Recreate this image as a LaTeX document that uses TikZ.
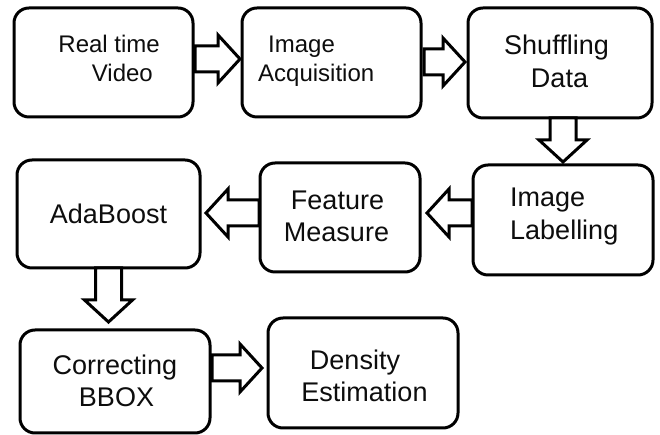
\documentclass[tikz,border=0pt]{standalone}
\usepackage{fontspec}
\setmainfont{Liberation Sans}
\usetikzlibrary{calc}
\newcommand\blockarrow[2]{%
  \coordinate (ba-n) at ($(#2)!22pt!(#1)$);
  \draw[barrow] ($(#1)!13pt!90:(#2)$) -- ($(ba-n)!13pt!90:(#2)$) -- ($(ba-n)!24pt!90:(#2)$) -- (#2)
    -- ($(ba-n)!24pt!-90:(#2)$) -- ($(ba-n)!13pt!-90:(#2)$) -- ($(#1)!13pt!-90:(#2)$) -- cycle;}
\tikzset{
  box/.style={draw=black, line width=3pt, rounded corners=15pt, fill=white, inner sep=0pt, outer sep=0pt},
  barrow/.style={draw=black, line width=3pt, fill=white, line join=miter},
  tsmall/.style={font=\fontsize{24}{29}\selectfont, inner sep=0pt, text=black!95},
  tbig/.style={font=\fontsize{27}{32}\selectfont, inner sep=0pt, text=black!95},
}
\begin{document}
\begin{tikzpicture}[x=1pt, y=1pt]
\useasboundingbox (0,0) rectangle (660,435);
\fill[white] (0,0) rectangle (660,435);

% boxes
\node[box, minimum width=179pt, minimum height=109pt] (b1) at (103.5,372.5) {};
\node[box, minimum width=179pt, minimum height=109pt] (b2) at (331.5,372.5) {};
\node[box, minimum width=184pt, minimum height=110pt] (b3) at (560,372) {};
\node[box, minimum width=180pt, minimum height=110pt] (b4) at (563,215) {};
\node[box, minimum width=160pt, minimum height=109pt] (b5) at (340,217.5) {};
\node[box, minimum width=183pt, minimum height=108pt] (b6) at (108.5,221) {};
\node[box, minimum width=190pt, minimum height=103pt] (b7) at (115,53.5) {};
\node[box, minimum width=190pt, minimum height=110pt] (b8) at (363,62) {};

% texts
\node[tsmall, anchor=base east] (t1a) at (160,382) {Real time};
\node[tsmall, anchor=base east] (t1b) at (153,353) {Video};
\node[tsmall, anchor=base west] (t2a) at (268,382) {Image};
\node[tsmall, anchor=base west] (t2b) at (258,353) {Acquisition};
\node[tbig, anchor=base] (t3a) at (556.5,380) {Shuffling};
\node[tbig, anchor=base] (t3b) at (559.5,347) {Data};
\node[tbig, anchor=base west] (t4a) at (510,228) {Image};
\node[tbig, anchor=base west] (t4b) at (510,195) {Labelling};
\node[tbig, anchor=base] (t5a) at (337.5,225) {Feature};
\node[tbig, anchor=base] (t5b) at (336.5,193) {Measure};
\node[tbig, anchor=base] (t6a) at (108.5,211) {AdaBoost};
\node[tbig, anchor=base] (t7a) at (115,60) {Correcting};
\node[tbig, anchor=base] (t7b) at (116.5,28) {BBOX};
\node[tbig, anchor=base] (t8a) at (355,65) {Density};
\node[tbig, anchor=base] (t8b) at (364.5,33) {Estimation};

% arrow end points
\coordinate (s1) at ($(b1.east)+(2,3.5)$);
\coordinate (e1) at ($(b2.west)+(-2,3.5)$);
\coordinate (s2) at ($(b2.east)+(3,0.5)$);
\coordinate (e2) at ($(b3.west)+(-3,1)$);
\coordinate (s3) at ($(b3.south)+(3,0)$);
\coordinate (e3) at ($(b4.north)+(0,3)$);
\coordinate (s4) at ($(b4.west)+(-1,7)$);
\coordinate (e4) at ($(b5.east)+(7,4.5)$);
\coordinate (s5) at ($(b5.west)+(-1,4.5)$);
\coordinate (e5) at ($(b6.east)+(6,1)$);
\coordinate (s6) at (b6.south);
\coordinate (e6) at ($(b7.north)+(-6.5,8)$);
\coordinate (s7) at ($(b7.east)+(2,13.5)$);
\coordinate (e7) at ($(b8.west)+(-6,5)$);

\blockarrow{s1}{e1}
\blockarrow{s2}{e2}
\blockarrow{s3}{e3}
\blockarrow{s4}{e4}
\blockarrow{s5}{e5}
\blockarrow{s6}{e6}
\blockarrow{s7}{e7}
\end{tikzpicture}
\end{document}
